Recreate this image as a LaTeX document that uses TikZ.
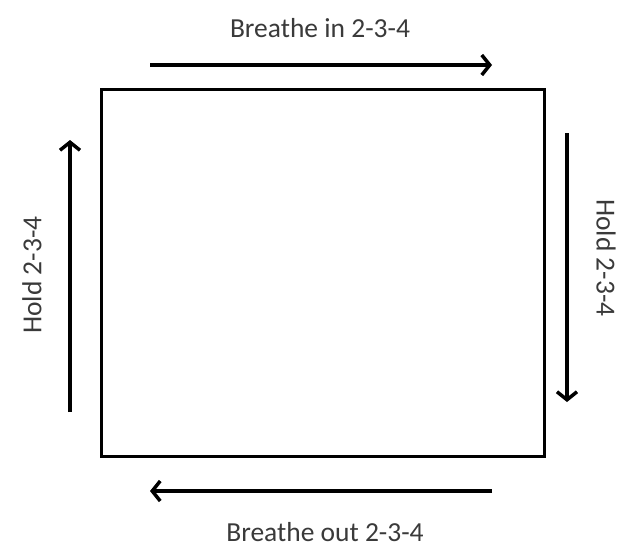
\documentclass[tikz,border=0pt]{standalone}
\usepackage{fontspec}
\setmainfont{Carlito}
\usetikzlibrary{arrows.meta}
\definecolor{testo}{HTML}{3A3A3A}
\tikzset{
  freccia/.style={line width=3.5pt, -{Straight Barb[length=8pt, width=20pt, line width=3.5pt]}},
  etichetta/.style={font=\fontsize{27.5}{30}\selectfont, text=testo, inner sep=0pt}
}
\begin{document}
\begin{tikzpicture}[x=1pt, y=-1pt]
    \useasboundingbox (0,0) rectangle (640,547);
    % Quadrato del respiro
    \node[draw, line width=3pt, minimum width=443pt, minimum height=367pt, inner sep=0pt] (quadrato) at (322.5,272.5) {};
    % Estremi delle frecce
    \coordinate (sopraA) at (150,65);
    \coordinate (sopraB) at (492,65);
    \coordinate (destraA) at (567,133);
    \coordinate (destraB) at (567,402);
    \coordinate (sottoA) at (492,491);
    \coordinate (sottoB) at (150,491);
    \coordinate (sinistraA) at (70,412);
    \coordinate (sinistraB) at (70,140);
    \draw[freccia] (sopraA) -- (sopraB);
    \draw[freccia] (destraA) -- (destraB);
    \draw[freccia] (sottoA) -- (sottoB);
    \draw[freccia] (sinistraA) -- (sinistraB);
    % Etichette
    \node[etichetta] (inspira) at (320,28) {Breathe in 2-3-4};
    \node[etichetta, rotate=-90] (trattieni1) at (606,258) {Hold 2-3-4};
    \node[etichetta] (espira) at (325,532) {Breathe out 2-3-4};
    \node[etichetta, rotate=90] (trattieni2) at (32,275) {Hold 2-3-4};
\end{tikzpicture}
\end{document}
